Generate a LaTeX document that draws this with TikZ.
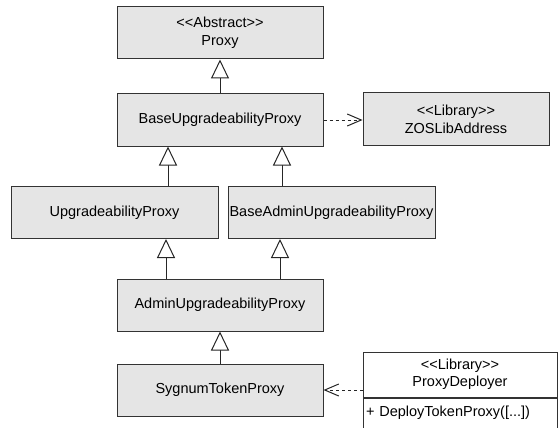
\documentclass[tikz,border=0pt]{standalone}
\usepackage{fontspec}
\setmainfont{Liberation Sans}[Ligatures=TeXOff]
\usetikzlibrary{arrows.meta, calc}

\tikzset{
    cls/.style = {draw=black!80, fill=black!10, line width=1pt, minimum height=52pt,
        inner xsep=1pt, align=center, font=\fontsize{14.5}{18}\selectfont},
    lib/.style = {draw=black!80, fill=white, line width=1pt, inner xsep=3pt,
        font=\fontsize{14.5}{17}\selectfont},
    extends/.style = {draw=black!85, line width=1pt,
        -{Triangle[fill=white, length=19pt, width=18pt]}},
    uses/.style = {draw=black!85, line width=1pt, dash pattern=on 3pt off 3pt,
        -{Straight Barb[length=14pt, width=12pt]}}
}

\begin{document}
\begin{tikzpicture}[x=1pt, y=-1pt]
    \useasboundingbox (0,0) rectangle (560,428);

    % classes
    \node[cls, minimum width=206pt] (proxy) at (220,33) {<<Abstract>>\\Proxy};
    \node[cls, minimum width=206pt] (base) at (220,120) {BaseUpgradeabilityProxy};
    \node[cls, minimum width=186pt] (zos) at (456,119) {<<Library>>\\ZOSLibAddress};
    \node[cls, minimum width=207pt] (upg) at (114.5,212.5) {UpgradeabilityProxy};
    \node[cls, minimum width=207pt] (badmin) at (331.5,212.5) {BaseAdminUpgradeabilityProxy};
    \node[cls, minimum width=206pt] (admin) at (220,305) {AdminUpgradeabilityProxy};
    \node[cls, minimum width=206pt] (sygnum) at (220,390) {SygnumTokenProxy};

    % library with one operation
    \node[lib, minimum width=194pt, minimum height=45pt, align=center] (pdhead) at (460,374.5)
        {<<Library>>\\ProxyDeployer};
    \node[lib, minimum height=30pt, text width=188pt, align=left, anchor=north] (pdops)
        at (pdhead.south) {+ DeployTokenProxy([...])};
    \coordinate (pd) at ($(pdhead.north west)!0.5!(pdops.south west)$);

    % inheritance
    \draw[extends] (base) -- (proxy);
    \draw[extends] ([xshift=-52pt]base.south |- upg.north) -- ([xshift=-52pt]base.south);
    \draw[extends] ([xshift=62pt]base.south |- badmin.north) -- ([xshift=62pt]base.south);
    \draw[extends] ([xshift=-54pt]admin.north) -- ([xshift=-54pt]admin.north |- upg.south);
    \draw[extends] ([xshift=60pt]admin.north) -- ([xshift=60pt]admin.north |- badmin.south);
    \draw[extends] (sygnum) -- (admin);

    % dependencies
    \draw[uses] (base.east) -- (base.east -| zos.west);
    \draw[uses] (pd) -- (pd -| sygnum.east);
\end{tikzpicture}
\end{document}
